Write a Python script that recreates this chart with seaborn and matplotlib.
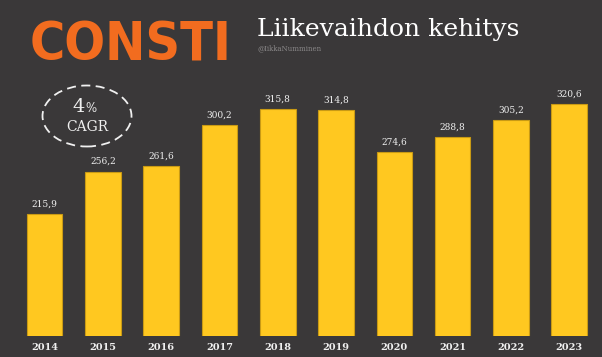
import matplotlib
matplotlib.use("Agg")
import matplotlib.pyplot as plt
import seaborn as sns
import pandas as pd
from matplotlib.patches import Ellipse

years = ["2014", "2015", "2016", "2017", "2018", "2019", "2020", "2021", "2022", "2023"]
revenue = [215.9, 256.2, 261.6, 300.2, 315.8, 314.8, 274.6, 288.8, 305.2, 320.6]
value_labels = ["215,9", "256,2", "261,6", "300,2", "315,8", "314,8", "274,6", "288,8", "305,2", "320,6"]
title = "Liikevaihdon kehitys"
handle = "@IikkaNumminen"
logo = "CONSTI"
cagr_pct = "4"
cagr_label = "CAGR"

BG = "#3a3839"
BAR = "#ffc820"
TXT = "#f0f0f0"
ORANGE = "#f26c1f"

sns.set_theme(style="white")
plt.rcParams["font.family"] = ["DejaVu Serif"]

df = pd.DataFrame({"year": years, "revenue": revenue})

W, H = 602, 357
fig = plt.figure(figsize=(W / 100, H / 100), dpi=100, facecolor=BG)
ax = fig.add_axes([0, (H - 335.7) / H, 1, 335.7 / H])
ax.set_facecolor(BG)

sns.barplot(data=df, x="year", y="revenue", order=years, color=BAR,
            width=0.61, saturation=1, edgecolor="#c99a14", linewidth=0.8, ax=ax)

ax.set_ylim(100, 419.6)
ax.set_xlim(-0.767, 9.564)
for s in ax.spines.values():
    s.set_visible(False)
ax.set_yticks([])
ax.set_xlabel("")
ax.set_ylabel("")
ax.tick_params(axis="x", length=0, pad=5, labelsize=7, labelcolor=TXT)
for t in ax.get_xticklabels():
    t.set_fontweight("semibold")

for i, (v, lab) in enumerate(zip(revenue, value_labels)):
    ax.annotate(lab, (i, v), xytext=(0, 4), textcoords="offset points",
                ha="center", va="bottom", fontsize=6.5, color=TXT)

# Logo: fit to the logo box width, centred vertically in the logo box
logo_txt = fig.text(30 / W, 1 - 40 / H, logo, family=["DejaVu Sans"],
                    fontweight="heavy", fontstretch="condensed", fontsize=60,
                    color=ORANGE, ha="left", va="center_baseline")
renderer = fig.canvas.get_renderer()
bb = logo_txt.get_window_extent(renderer)
logo_txt.set_fontsize(60 * 202 / bb.width)

# Title
fig.text(257 / W, 1 - 36 / H, title, fontsize=18, color="#ffffff", ha="left", va="baseline")
fig.text(257 / W, 1 - 50 / H, handle, fontsize=5, color="#8a8889", ha="left", va="baseline")

# CAGR ellipse
ell = Ellipse((87 / W, 1 - 116 / H), 89 / W, 61 / H, transform=fig.transFigure,
              fill=False, edgecolor="#f0f0f0", linewidth=1.3, linestyle=(0, (5, 3)))
fig.patches.append(ell)
fig.text(85 / W, 1 - 112 / H, cagr_pct, fontsize=14, color=TXT, ha="right", va="baseline")
fig.text(85 / W, 1 - 112 / H, "%", fontsize=8.5, color=TXT, ha="left", va="baseline")
fig.text(87 / W, 1 - 131 / H, cagr_label, fontsize=10, color=TXT, ha="center", va="baseline")

fig.savefig("out.png", dpi=100, facecolor=BG)
